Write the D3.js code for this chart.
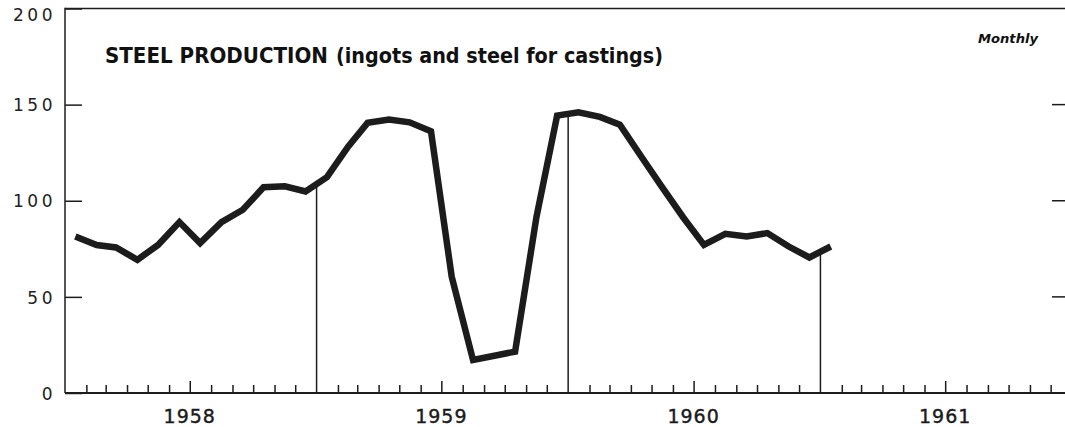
<!DOCTYPE html>
<html>
<head>
<meta charset="utf-8">
<script src="https://cdn.jsdelivr.net/npm/d3@7"></script>
<style>
  html, body { margin: 0; padding: 0; background: #fff; }
  svg { display: block; }
</style>
</head>
<body>
<div id="chart"></div>
<script>
const width = 1065;
const height = 427;

// monthly values, Jan 1958 .. Jan 1961
const months = d3.timeMonth.range(new Date(1958, 0, 1), new Date(1961, 1, 1));
const values = [
  81.4, 77, 75.7, 69.3, 77, 88.9, 78, 88.9, 95.3, 107, 107.5, 104.8,
  112.3, 128.3, 140.5, 142.2, 140.8, 136.1, 60.6, 17.2, 19.4, 21.5, 91.5, 144.3,
  146, 143.6, 139.6, 123, 107.2, 91.3, 77, 82.8, 81.4, 83.2, 76.2, 70.5,
  76.2
];
const yTicks = [0, 50, 100, 150, 200];
const years = [1958, 1959, 1960, 1961];
const yearMarks = [1959, 1960, 1961];

const data = months.map((m, i) => ({ date: d3.timeDay.offset(m, 15), value: values[i] }));

const svg = d3.select("#chart")
  .append("svg")
  .attr("width", width)
  .attr("height", height);

const x = d3.scaleTime()
  .domain([new Date(1958, 0, 1), new Date(1962, 0, 1)])
  .range([65, 1072]);

const y = d3.scaleLinear()
  .domain([0, 200])
  .range([393, 8.5]);

const ink = "#1c1c1c";

// ------------------
// frame
// ------------------
svg.append("line")
  .attr("x1", 65).attr("x2", width)
  .attr("y1", y(200)).attr("y2", y(200))
  .attr("stroke", ink).attr("stroke-width", 1.5);

svg.append("line")
  .attr("x1", 65).attr("x2", 65)
  .attr("y1", y(200) - 0.75).attr("y2", y(0))
  .attr("stroke", ink).attr("stroke-width", 1.5);

// ------------------
// y axis
// ------------------
const yAxis = svg.append("g")
  .attr("transform", "translate(65,0)")
  .call(d3.axisLeft(y).tickValues(yTicks).tickSize(-17).tickPadding(9));

yAxis.select(".domain").remove();
yAxis.selectAll("line")
  .attr("stroke", ink)
  .attr("stroke-width", 1.5);
yAxis.selectAll("text")
  .attr("fill", "#222")
  .style("font-family", "DejaVu Sans, sans-serif")
  .style("font-size", "17px")
  .style("letter-spacing", "3.5px")
  .attr("dy", d => d === 200 ? "0.7em" : "0.36em");

// right side ticks
svg.append("g")
  .selectAll("line")
  .data(yTicks.filter(d => d > 0 && d < 200))
  .enter()
  .append("line")
  .attr("x1", 1052).attr("x2", width)
  .attr("y1", d => y(d)).attr("y2", d => y(d))
  .attr("stroke", ink).attr("stroke-width", 1.5);

// ------------------
// x axis
// ------------------
const monthTicks = d3.timeMonth.range(new Date(1958, 0, 1), new Date(1962, 0, 1))
  .filter(d => d.getMonth() !== 0);

const xAxis = svg.append("g")
  .attr("transform", `translate(0,${y(0)})`)
  .call(d3.axisBottom(x).tickValues(monthTicks).tickSize(-8).tickFormat(""));

xAxis.select(".domain").remove();
xAxis.selectAll(".tick line")
  .attr("stroke", ink)
  .attr("stroke-width", 1.5)
  .attr("y2", d => d.getMonth() === 6 ? -12 : -8);

svg.append("line")
  .attr("x1", 65).attr("x2", width)
  .attr("y1", y(0)).attr("y2", y(0))
  .attr("stroke", ink).attr("stroke-width", 2);

svg.append("g")
  .selectAll("text")
  .data(years)
  .enter()
  .append("text")
  .attr("x", d => x(new Date(d, 6, 1)))
  .attr("y", 423)
  .attr("text-anchor", "middle")
  .attr("fill", "#1a1a1a")
  .style("font-family", "DejaVu Sans, sans-serif")
  .style("font-size", "19px")
  .style("letter-spacing", "1px")
  .style("stroke", "#1a1a1a")
  .style("stroke-width", "0.4px")
  .text(d => d);

// ------------------
// year drop lines
// ------------------
function valueAt(date) {
  const i = d3.bisector(d => d.date).left(data, date);
  const a = data[i - 1], b = data[i];
  const t = (x(date) - x(a.date)) / (x(b.date) - x(a.date));
  return a.value + t * (b.value - a.value);
}

svg.append("g")
  .selectAll("line")
  .data(yearMarks)
  .enter()
  .append("line")
  .attr("x1", d => x(new Date(d, 0, 1)))
  .attr("x2", d => x(new Date(d, 0, 1)))
  .attr("y1", d => y(valueAt(new Date(d, 0, 1))))
  .attr("y2", y(0))
  .attr("stroke", ink)
  .attr("stroke-width", 1.5);

// ------------------
// series
// ------------------
const line = d3.line()
  .x(d => x(d.date))
  .y(d => y(d.value));

svg.append("path")
  .datum(data)
  .attr("d", line)
  .attr("fill", "none")
  .attr("stroke", ink)
  .attr("stroke-width", 6.5)
  .attr("stroke-linejoin", "miter")
  .attr("stroke-miterlimit", 3);

// ------------------
// titles
// ------------------
svg.append("text")
  .attr("x", 105)
  .attr("y", 63)
  .attr("fill", "#111")
  .attr("textLength", 223)
  .attr("lengthAdjust", "spacingAndGlyphs")
  .style("font-family", "DejaVu Sans, sans-serif")
  .style("font-weight", "bold")
  .style("font-size", "21px")
  .text("STEEL PRODUCTION");

svg.append("text")
  .attr("x", 336)
  .attr("y", 63)
  .attr("fill", "#111")
  .attr("textLength", 327)
  .attr("lengthAdjust", "spacingAndGlyphs")
  .style("font-family", "DejaVu Sans, sans-serif")
  .style("font-weight", "bold")
  .style("font-size", "21px")
  .text("(ingots and steel for castings)");

svg.append("text")
  .attr("x", 978)
  .attr("y", 43)
  .attr("fill", "#111")
  .attr("textLength", 60)
  .attr("lengthAdjust", "spacingAndGlyphs")
  .style("font-family", "DejaVu Sans, sans-serif")
  .style("font-weight", "bold")
  .style("font-style", "italic")
  .style("font-size", "13px")
  .text("Monthly");
</script>
</body>
</html>
